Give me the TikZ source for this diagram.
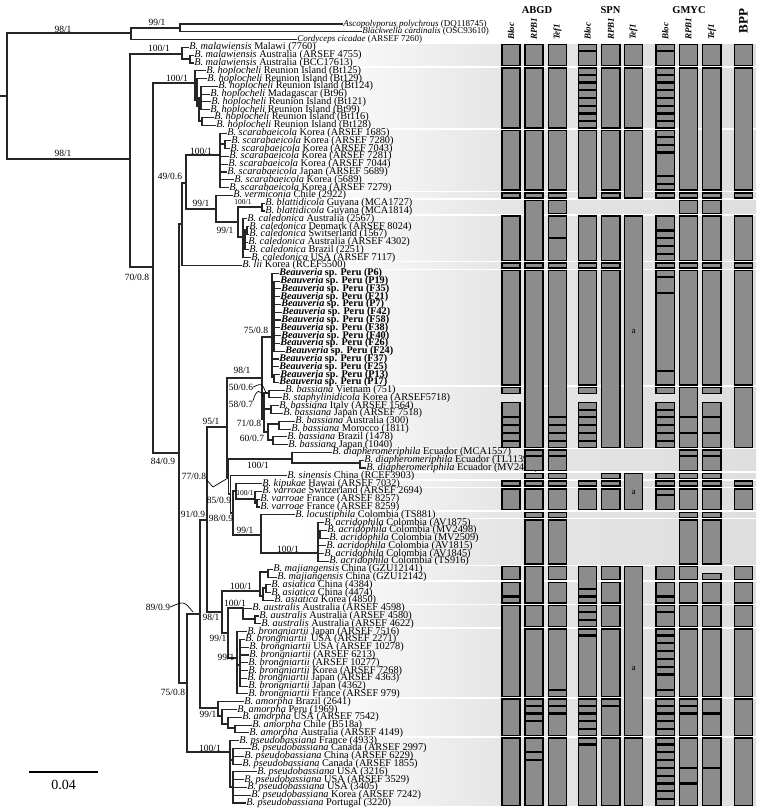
\documentclass[tikz,border=0pt]{standalone}
\usepackage{fontspec}
\setmainfont{Liberation Serif}
\newcommand\lv[4]{\node[lfs] (L#1) at (#2,{Y(#1)}) {\textit{B. #3} #4};}
\newcommand\pv[3]{\node[lfs,font=\fontsize{10.2}{10}\selectfont\bfseries] (L#1) at (#2,{Y(#1)}) {\textit{Beauveria} sp. Peru (#3)};}
\newcommand\bxs[3]{\foreach \a/\b in {#3}{%
  \ifcsname gs\a\endcsname\def\ot{0.17}\else\def\ot{0.05}\fi
  \ifcsname ge\b\endcsname\def\ob{0.17}\else\def\ob{0.05}\fi
  \draw[boxst] (#1,{Y(\a-0.5+\ot)}) rectangle (#2,{Y(\b+0.5-\ob)});}}
\foreach \i in {4,7,15,23,24,26,32,33,48,56,59,60,61,64,65,71,73,76,79,88,93}{\expandafter\gdef\csname gs\i\endcsname{}}
\foreach \i in {6,14,22,23,25,31,32,47,55,58,59,60,63,64,70,72,75,78,87,92,101}{\expandafter\gdef\csname ge\i\endcsname{}}
\begin{document}
\begin{tikzpicture}[x=1pt,y=-1pt,
  declare function={Y(\i)=16.21+7.79*\i;},
  br/.style={line width=1.1pt,black!85,line cap=rect},
  lfs/.style={anchor=west,inner sep=0.6pt,font=\fontsize{10.3}{10}\selectfont},
  ogs/.style={anchor=west,inner sep=0.6pt,font=\fontsize{9}{9}\selectfont},
  supp/.style={inner sep=0pt,font=\fontsize{9.5}{9}\selectfont},
  ssupp/.style={inner sep=0pt,font=\fontsize{7.5}{7}\selectfont},
  boxst/.style={fill=black!45,draw=black,line width=1.4pt},
  hd/.style={inner sep=0pt,font=\fontsize{10.5}{10}\selectfont\bfseries},
  shd/.style={inner sep=0pt,rotate=90,anchor=west,font=\fontsize{9}{9}\selectfont\bfseries\itshape},
  ptr/.style={line width=0.7pt,black}]
\useasboundingbox (0,0) rectangle (756,811);
\fill[white] (0,0) rectangle (756,811);
% background bands
\foreach \a/\b in {4/6,7/14,15/22,23/23,24/25,26/31,32/32,33/47,48/55,56/58,59/59,60/60,61/63,64/64,65/70,71/72,73/75,76/78,79/87,88/92,93/101}{
  \shade[left color=white,right color=black!10] (300,{Y(\a-0.33)}) rectangle (500,{Y(\b+0.33)});
  \shade[left color=black!10,right color=black!13] (500,{Y(\a-0.33)}) rectangle (756,{Y(\b+0.33)});
}
% internal nodes
\coordinate (st) at (0,96);
\coordinate (nR) at (7,96);
\coordinate (nO) at (131,33);
\coordinate (nO2) at (180,28);
\coordinate (nA) at (130,159);
\coordinate (nM) at (182,54);
\coordinate (nM2) at (190,59);
\coordinate (nC) at (153,267);
\coordinate (nH) at (195,83);
\coordinate (nH2) at (197,100);
\coordinate (nH3) at (199,106);
\coordinate (nH4) at (201,98);
\coordinate (nH5) at (202,121);
\coordinate (nD) at (179,453);
\coordinate (nE) at (182,224);
\coordinate (nG) at (186,183);
\coordinate (nS) at (220,155);
\coordinate (nS3) at (225,144);
\coordinate (nV) at (216,209);
\coordinate (nW) at (238,222);
\coordinate (nBl) at (262,207);
\coordinate (nCa) at (243,237);
\coordinate (nCa2) at (245,238);
\coordinate (nCa3) at (247,230);
\coordinate (nF) at (187,683);
\coordinate (nJ) at (200,614);
\coordinate (nK) at (207,520);
\coordinate (nL) at (227,427);
\coordinate (nN98) at (262,378);
\coordinate (nP72) at (272,337);
\coordinate (nP2) at (274,311);
\coordinate (nP3) at (274,377);
\coordinate (nB50) at (264,419);
\coordinate (nBvs) at (269,393);
\coordinate (nBit) at (271,409);
\coordinate (nBam) at (268,432);
\coordinate (nBau) at (279,424);
\coordinate (nBbj) at (273,440);
\coordinate (nY) at (228.5,477);
\coordinate (nD100) at (292,459);
\coordinate (nDi2) at (360,463);
\coordinate (nZ) at (230.5,494);
\coordinate (nZ98) at (233,513);
\coordinate (nkv) at (236,491);
\coordinate (nV100) at (255,499);
\coordinate (nVf) at (257,503);
\coordinate (nLo) at (261,535);
\coordinate (nAc) at (318,553);
\coordinate (nAc2) at (320,534);
\coordinate (nQ) at (222,612);
\coordinate (nMA) at (260,591);
\coordinate (nMj) at (268,572);
\coordinate (nAs) at (263,596);
\coordinate (nAs2) at (266,588);
\coordinate (nR2) at (228,633);
\coordinate (nAu) at (243,608);
\coordinate (nAu2) at (255,619);
\coordinate (nBr) at (237,658);
\coordinate (nBr2) at (240,665);
\coordinate (nAm) at (218,708);
\coordinate (nAm2) at (222,716);
\coordinate (nAm3) at (228,724);
\coordinate (nAm4) at (235,728);
\coordinate (nPs) at (230,752);
\coordinate (nPs2) at (233,760);
\coordinate (nPs3) at (233,787);
% leaves
\node[ogs] (L1) at (342.5,{Y(1)}) {\textit{Ascopolyporus polychrous} (DQ118745)};
\node[ogs] (L2) at (361.5,{Y(2)}) {\textit{Blackwella cardinalis} (OSC93610)};
\node[ogs] (L3) at (296.5,{Y(3)}) {\textit{Cordyceps cicadae} (ARSEF 7260)};
\lv{4}{188.5}{malawiensis}{Malawi (7760)}
\lv{5}{193.5}{malawiensis}{Australia (ARSEF 4755)}
\lv{6}{193.5}{malawiensis}{Australia (BCC17613)}
\lv{7}{205.5}{hoplocheli}{Reunion Island (Bt125)}
\lv{8}{206.5}{hoplocheli}{Reunion Island (Bt129)}
\lv{9}{217.5}{hoplocheli}{Reunion Island (Bt124)}
\lv{10}{209.5}{hoplocheli}{Madagascar (Bt96)}
\lv{11}{210.5}{hoplocheli}{Reunion Island (Bt121)}
\lv{12}{209.5}{hoplocheli}{Reunion Island (Bt99)}
\lv{13}{213.5}{hoplocheli}{Reunion Island (Bt116)}
\lv{14}{215.5}{hoplocheli}{Reunion Island (Bt128)}
\lv{15}{226.5}{scarabaeicola}{Korea (ARSEF 1685)}
\lv{16}{230.5}{scarabaeicola}{Korea (ARSEF 7280)}
\lv{17}{229.5}{scarabaeicola}{Korea (ARSEF 7043)}
\lv{18}{228.5}{scarabaeicola}{Korea (ARSEF 7281)}
\lv{19}{227.5}{scarabaeicola}{Korea (ARSEF 7044)}
\lv{20}{226.5}{scarabaeicola}{Japan (ARSEF 5689)}
\lv{21}{233.5}{scarabaeicola}{Korea (5689)}
\lv{22}{228.5}{scarabaeicola}{Korea (ARSEF 7279)}
\lv{23}{232.5}{vermiconia}{Chile (2922)}
\lv{24}{264.5}{blattidicola}{Guyana (MCA1727)}
\lv{25}{264.5}{blattidicola}{Guyana (MCA1814)}
\lv{26}{246.5}{caledonica}{Australia (2567)}
\lv{27}{248.5}{caledonica}{Denmark (ARSEF 8024)}
\lv{28}{248.5}{caledonica}{Switserland (1567)}
\lv{29}{247.5}{caledonica}{Australia (ARSEF 4302)}
\lv{30}{248.5}{caledonica}{Brazil (2251)}
\lv{31}{250.5}{caledonica}{USA (ARSEF 7117)}
\lv{32}{241.5}{lii}{Korea (RCEF5500)}
\pv{33}{278.5}{P6}
\pv{34}{279.5}{P19}
\pv{35}{280.5}{F35}
\pv{36}{279.5}{F21}
\pv{37}{280.5}{P7}
\pv{38}{281.5}{F42}
\pv{39}{280.5}{F58}
\pv{40}{279.5}{F38}
\pv{41}{280.5}{F40}
\pv{42}{279.5}{F26}
\pv{43}{284.5}{F24}
\pv{44}{278.5}{F37}
\pv{45}{278.5}{F25}
\pv{46}{279.5}{P13}
\pv{47}{278.5}{P17}
\lv{48}{284.5}{bassiana}{Vietnam (751)}
\lv{49}{281.5}{staphylinidicola}{Korea (ARSEF5718)}
\lv{50}{278.5}{bassiana}{Italy (ARSEF 1564)}
\lv{51}{282.5}{bassiana}{Japan (ARSEF 7518)}
\lv{52}{294.5}{bassiana}{Australia (300)}
\lv{53}{290.5}{bassiana}{Morocco (1811)}
\lv{54}{286.5}{bassiana}{Brazil (1478)}
\lv{55}{287.5}{bassiana}{Japan (1040)}
\lv{56}{331.5}{diapheromeriphila}{Ecuador (MCA1557)}
\lv{57}{363.5}{diapheromeriphila}{Ecuador (TL11390)}
\lv{58}{365.5}{diapheromeriphila}{Ecuador (MV2492)}
\lv{59}{286.5}{sinensis}{China (RCEF3903)}
\lv{60}{261.5}{kipukae}{Hawai (ARSEF 7032)}
\lv{61}{261.5}{varroae}{Switzerland (ARSEF 2694)}
\lv{62}{259.5}{varroae}{France (ARSEF 8257)}
\lv{63}{259.5}{varroae}{France (ARSEF 8259)}
\lv{64}{294.5}{locustiphila}{Colombia (TS881)}
\lv{65}{323.5}{acridophila}{Colombia (AV1875)}
\lv{66}{326.5}{acridophila}{Colombia (MV2498)}
\lv{67}{328.5}{acridophila}{Colombia (MV2509)}
\lv{68}{325.5}{acridophila}{Colombia (AV1815)}
\lv{69}{323.5}{acridophila}{Colombia (AV1845)}
\lv{70}{328.5}{acridophila}{Colombia (TS916)}
\lv{71}{272.5}{majiangensis}{China (GZU12141)}
\lv{72}{276.5}{majiangensis}{China (GZU12142)}
\lv{73}{270.5}{asiatica}{China (4384)}
\lv{74}{270.5}{asiatica}{China (4474)}
\lv{75}{273.5}{asiatica}{Korea (4850)}
\lv{76}{251.5}{australis}{Australia (ARSEF 4598)}
\lv{77}{258.5}{australis}{Australia (ARSEF 4580)}
\lv{78}{260.5}{australis}{Australia (ARSEF 4622)}
\lv{79}{246.5}{brongniartii}{Japan (ARSEF 7516)}
\lv{80}{244.5}{brongniartii}{\,USA (ARSEF 2271)}
\lv{81}{248.5}{brongniartii}{USA (ARSEF 10278)}
\lv{82}{248.5}{brongniartii}{(ARSEF 6213)}
\lv{83}{247.5}{brongniartii}{(ARSEF 10277)}
\lv{84}{247.5}{brongniartii}{Korea (ARSEF 7268)}
\lv{85}{246.5}{brongniartii}{Japan (ARSEF 4363)}
\lv{86}{247.5}{brongniartii}{Japan (4362)}
\lv{87}{247.5}{brongniartii}{France (ARSEF 979)}
\lv{88}{243.5}{amorpha}{Brazil (2641)}
\lv{89}{236.5}{amorpha}{Peru (1969)}
\lv{90}{241.5}{amorpha}{USA (ARSEF 7542)}
\lv{91}{251.5}{amorpha}{Chile (B518a)}
\lv{92}{248.5}{amorpha}{Australia (ARSEF 4149)}
\lv{93}{238.5}{pseudobassiana}{France (4933)}
\lv{94}{250.5}{pseudobassiana}{Canada (ARSEF 2997)}
\lv{95}{243.5}{pseudobassiana}{China (ARSEF 6229)}
\lv{96}{241.5}{pseudobassiana}{Canada (ARSEF 1855)}
\lv{97}{256.5}{pseudobassiana}{USA (3216)}
\lv{98}{243.5}{pseudobassiana}{USA (ARSEF 3529)}
\lv{99}{246.5}{pseudobassiana}{USA (3405)}
\lv{100}{250.5}{pseudobassiana}{Korea (ARSEF 7242)}
\lv{101}{245.5}{pseudobassiana}{Portugal (3220)}
% branches
\draw[br] (st) -- (nR);
\foreach \p/\c in {nR/nO,nR/nA,nO/nO2,nO2/L1,nO2/L2,nO/L3,nA/nM,nA/nC,nM/L4,nM/nM2,nM2/L5,nM2/L6,
 nC/nH,nC/nD,nH/L7,nH/nH2,nH2/L8,nH2/nH3,nH3/nH4,nH3/nH5,nH4/L9,nH4/L10,nH4/L11,nH4/L12,nH5/L13,nH5/L14,
 nD/nE,nD/nF,nE/nG,nE/L32,nG/nS,nG/nV,nS/L15,nS/nS3,nS3/L16,nS3/L17,nS/L18,nS/L19,nS/L20,nS/L21,nS/L22,
 nV/L23,nV/nW,nW/nBl,nW/nCa,nBl/L24,nBl/L25,nCa/L26,nCa/nCa2,nCa/L31,nCa2/nCa3,nCa3/L27,nCa3/L28,nCa2/L29,nCa2/L30,
 nF/nJ,nF/nPs,nJ/nK,nJ/nAm,nK/nL,nK/nQ,nL/nN98,nL/nY,nN98/nP72,nN98/nB50,
 nP72/L33,nP72/nP2,nP72/L44,nP72/L45,nP72/nP3,nP2/L34,nP2/L35,nP2/L36,nP2/L37,nP2/L38,nP2/L39,nP2/L40,nP2/L41,nP2/L42,nP2/L43,nP3/L46,nP3/L47,
 nB50/nBvs,nB50/nBit,nB50/nBam,nBvs/L48,nBvs/L49,nBit/L50,nBit/L51,nBam/nBau,nBam/nBbj,nBau/L52,nBau/L53,nBbj/L54,nBbj/L55,
 nY/nD100,nY/nZ,nD100/L56,nD100/nDi2,nDi2/L57,nDi2/L58,nZ/L59,nZ/nZ98,nZ98/nkv,nZ98/nLo,nkv/L60,nkv/nV100,nV100/L61,nV100/nVf,nVf/L62,nVf/L63,
 nLo/L64,nLo/nAc,nAc/L65,nAc/nAc2,nAc2/L66,nAc2/L67,nAc/L68,nAc/L69,nAc/L70,
 nQ/nMA,nQ/nR2,nMA/nMj,nMA/nAs,nMj/L71,nMj/L72,nAs/nAs2,nAs/L75,nAs2/L73,nAs2/L74,
 nR2/nAu,nR2/nBr,nAu/L76,nAu/nAu2,nAu2/L77,nAu2/L78,nBr/L79,nBr/nBr2,nBr/L87,nBr2/L80,nBr2/L81,nBr2/L82,nBr2/L83,nBr2/L84,nBr2/L85,nBr2/L86,
 nAm/L88,nAm/nAm2,nAm2/L89,nAm2/nAm3,nAm3/L90,nAm3/nAm4,nAm4/L91,nAm4/L92,
 nPs/L93,nPs/nPs2,nPs/nPs3,nPs2/L94,nPs2/L95,nPs2/L96,nPs3/L97,nPs3/L98,nPs3/L99,nPs3/L100,nPs3/L101}
 {\draw[br] (\p) |- (\c);}
% support values
\node[supp] (s1) at (63,29) {98/1};
\node[supp] (s2) at (157,22) {99/1};
\node[supp] (s3) at (63,153) {98/1};
\node[supp] (s4) at (159,48) {100/1};
\node[supp] (s5) at (177,78) {100/1};
\node[supp] (s6) at (137,277) {70/0.8};
\node[supp] (s7) at (201,151) {100/1};
\node[supp] (s8) at (170,176) {49/0.6};
\node[supp] (s9) at (201,203) {99/1};
\node[ssupp] (s10) at (243,202) {100/1};
\node[supp] (s11) at (225,230) {99/1};
\node[supp] (s12) at (256,330) {75/0.8};
\node[supp] (s13) at (242,370) {98/1};
\node[supp] (s14) at (241,387) {50/0.6};
\node[supp] (s15) at (241,404) {58/0.7};
\node[supp] (s16) at (249,423) {71/0.8};
\node[supp] (s17) at (252,438) {60/0.7};
\node[supp] (s18) at (211,421) {95/1};
\node[supp] (s19) at (163,461) {84/0.9};
\node[supp] (s20) at (258,465) {100/1};
\node[supp] (s21) at (194,476) {77/0.8};
\node[supp] (s22) at (219,500) {85/0.9};
\node[ssupp] (s23) at (245,493) {100/1};
\node[supp] (s24) at (193,514) {91/0.9};
\node[supp] (s25) at (221,518) {98/0.9};
\node[supp] (s26) at (245,530) {99/1};
\node[supp] (s27) at (288,549) {100/1};
\node[supp] (s28) at (241,586) {100/1};
\node[supp] (s29) at (158,607) {89/0.9};
\node[supp] (s30) at (235,603) {100/1};
\node[supp] (s31) at (211,617) {98/1};
\node[supp] (s32) at (218,638) {99/1};
\node[supp] (s33) at (226,657) {99/1};
\node[supp] (s34) at (173,692) {75/0.8};
\node[supp] (s35) at (208,714) {99/1};
\node[supp] (s36) at (210,748) {100/1};
% pointers
\coordinate (p1) at (213,487); \coordinate (p2) at (228,478);
\draw[ptr] (s21.south east) -- (p1) -- (p2);
\coordinate (p3) at (193,612);
\draw[ptr] (s29.east) .. controls (184,601) .. (p3);
\coordinate (p4) at (266,393);
\draw[ptr] (s14.east) .. controls (262,383) .. (p4);
\coordinate (p5) at (263,397);
\draw[ptr] (s15.north east) .. controls (256,389) and (261,389) .. (p5);
% scale bar
\coordinate (sb1) at (29,772); \coordinate (sb2) at (98,772);
\draw[line width=1.2pt] (sb1) -- (sb2);
\node[inner sep=0pt,font=\fontsize{14}{14}\selectfont] (sbl) at (63.5,785) {0.04};
% bars
\bxs{502}{520}{4/6,7/14,15/22,23/23,26/31,32/32,33/47,48/48,50/51,52/52,53/53,54/54,55/55,60/60,61/63,71/72,73/74,75/75,76/87,88/92,93/101}
\bxs{525}{543}{4/6,7/14,15/22,23/23,24/31,32/32,33/55,56/56,57/58,59/59,60/60,61/63,64/64,65/70,71/75,76/78,79/87,88/88,89/89,90/90,91/92,93/94,95/95,96/101}
\bxs{548.3}{566.7}{4/6,7/14,15/22,23/23,24/25,26/28,29/31,32/32,33/51,52/52,53/53,54/54,55/55,56/56,57/58,59/59,60/60,61/63,64/64,65/70,71/72,73/75,76/78,79/86,87/87,88/88,89/89,90/92,93/101}
\bxs{578.3}{596.7}{4/4,5/6,7/7,8/8,9/9,10/10,11/11,12/12,13/13,14/14,15/23,26/31,32/32,33/47,48/48,50/50,51/51,52/52,53/53,54/54,55/55,60/60,61/63,71/73,74/74,75/75,76/76,77/77,78/78,79/79,80/87,88/88,89/89,90/90,91/91,92/92,93/93,94/101}
\bxs{601.7}{620}{4/6,7/14,15/22,23/23,26/31,32/32,33/55,59/59,60/60,61/63,71/72,73/75,76/78,79/87,88/88,89/92,93/101}
\bxs{624.3}{642.7}{4/6,7/14,15/23,26/55,59/63,71/92,93/101}
\bxs{656}{674.3}{4/4,5/6,7/7,8/8,9/9,10/10,11/11,12/12,13/13,14/14,15/15,16/16,17/17,18/20,21/21,22/22,23/23,26/27,28/28,29/29,30/30,31/31,32/32,33/33,34/35,36/45,46/47,48/48,50/50,51/51,52/52,53/53,54/54,55/55,59/59,60/60,61/61,62/63,71/72,73/74,75/75,76/76,77/78,79/79,80/80,81/81,82/82,83/83,84/84,85/86,87/87,88/88,89/89,90/90,91/91,92/92,93/93,94/94,95/95,96/96,97/97,98/98,99/99,100/100,101/101}
\bxs{679.3}{697.7}{4/6,7/22,23/23,24/25,26/31,32/32,33/47,48/51,52/53,54/55,56/56,57/58,59/59,60/60,61/63,64/64,65/70,71/72,73/75,76/78,79/87,88/88,89/89,90/92,93/96,97/98,99/101}
\bxs{702.7}{721}{4/6,7/22,23/23,24/25,26/31,32/32,33/47,48/48,50/51,52/53,54/55,56/56,57/58,59/59,60/60,61/63,64/64,65/70,72/72,73/75,76/78,79/87,88/89,90/92,93/96,97/101}
\bxs{734.3}{752.7}{4/6,7/22,23/23,26/31,32/32,33/47,48/55,60/60,61/63,71/72,73/75,76/78,79/87,88/92,93/101}
\node[inner sep=0pt,font=\fontsize{9}{9}\selectfont] (a1) at (633.5,331) {a};
\node[inner sep=0pt,font=\fontsize{9}{9}\selectfont] (a2) at (633.5,492) {a};
\node[inner sep=0pt,font=\fontsize{9}{9}\selectfont] (a3) at (633.5,668) {a};
% headers
\node[hd] (h1) at (537,10) {ABGD};
\node[hd] (h2) at (610.5,10) {SPN};
\node[hd] (h3) at (689,10) {GMYC};
\node[inner sep=0pt,rotate=90,font=\fontsize{13}{13}\selectfont\bfseries] (h4) at (743.5,21) {BPP};
\node[shd] at (511,40) {Bloc};
\node[shd] at (534,40) {RPB1};
\node[shd] at (557.5,40) {Tef1};
\node[shd] at (587.5,40) {Bloc};
\node[shd] at (610.8,40) {RPB1};
\node[shd] at (633.5,40) {Tef1};
\node[shd] at (665.2,40) {Bloc};
\node[shd] at (688.5,40) {RPB1};
\node[shd] at (711.8,40) {Tef1};
\end{tikzpicture}
\end{document}
